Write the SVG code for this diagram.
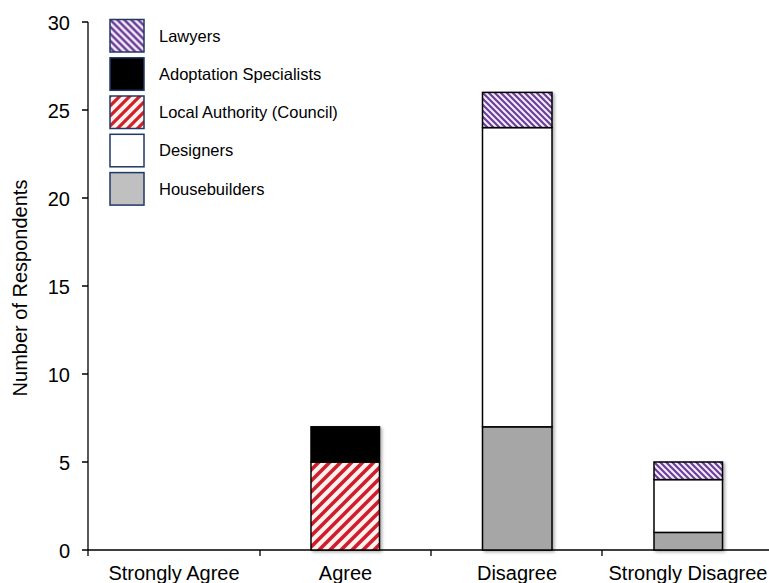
<svg xmlns="http://www.w3.org/2000/svg" width="769" height="583" viewBox="0 0 769 583">
<defs>
<pattern id="red" patternUnits="userSpaceOnUse" width="11" height="11">
<rect width="11" height="11" fill="#fff1ec"/>
<path d="M-2.75,2.75 L2.75,-2.75 M0,11 L11,0 M8.25,13.75 L13.75,8.25" stroke="#cf1f2e" stroke-width="3.6"/>
</pattern>
<pattern id="redL" patternUnits="userSpaceOnUse" width="10" height="10" x="110" y="96">
<rect width="10" height="10" fill="#fff1ec"/>
<path d="M-2.5,2.5 L2.5,-2.5 M0,10 L10,0 M7.5,12.5 L12.5,7.5" stroke="#d0202a" stroke-width="3.2"/>
</pattern>
<pattern id="purple" patternUnits="userSpaceOnUse" width="6" height="6">
<rect width="6" height="6" fill="#f3ecfa"/>
<path d="M-1.5,4.5 L1.5,7.5 M0,0 L6,6 M4.5,-1.5 L7.5,1.5" stroke="#6c3f98" stroke-width="2.2"/>
</pattern>
<pattern id="purpleL" patternUnits="userSpaceOnUse" width="7" height="7" x="110" y="19.5">
<rect width="7" height="7" fill="#f3ecfa"/>
<path d="M-1.75,5.25 L1.75,8.75 M0,0 L7,7 M5.25,-1.75 L8.75,1.75" stroke="#6c3f98" stroke-width="2.5"/>
</pattern>
<filter id="shadow" x="-10%" y="-10%" width="130%" height="130%">
<feDropShadow dx="2" dy="1.5" stdDeviation="1.5" flood-color="#000" flood-opacity="0.3"/>
</filter>
</defs>
<style>
text{font-family:"Liberation Sans",Arial,sans-serif;fill:#000}
.tick{font-size:20px;text-anchor:end}
.cat{font-size:20px;text-anchor:middle}
.leg{font-size:16.5px}
.ax{stroke:#000;stroke-width:1.3;fill:none}
.seg{stroke:#000;stroke-width:1.5}
.lbox{stroke:#1f3864;stroke-width:1.5}
</style>
<rect width="769" height="583" fill="#fff"/>

<g id="axes">
<path class="ax" d="M88,22 V550 M82,550 H769"/>
<path class="ax" d="M82,22 H88 M82,110 H88 M82,198 H88 M82,286 H88 M82,374 H88 M82,462 H88"/>
<path class="ax" d="M88,550 V556 M260,550 V556 M431,550 V556 M602,550 V556"/>
<text class="tick" x="70" y="29.5">30</text>
<text class="tick" x="70" y="117.5">25</text>
<text class="tick" x="70" y="205.5">20</text>
<text class="tick" x="70" y="293.5">15</text>
<text class="tick" x="70" y="381.5">10</text>
<text class="tick" x="70" y="469.5">5</text>
<text class="tick" x="70" y="557.5">0</text>
<text class="cat" x="174" y="580">Strongly Agree</text>
<text class="cat" x="345.5" y="580">Agree</text>
<text class="cat" x="517" y="580">Disagree</text>
<text class="cat" x="688" y="580">Strongly Disagree</text>
<text x="0" y="0" font-size="20" text-anchor="middle" transform="translate(26.5,288) rotate(-90)">Number of Respondents</text>
</g>

<g id="bar-agree" filter="url(#shadow)">
<rect class="seg" x="311" y="462" width="68.5" height="88" fill="url(#red)"/>
<rect class="seg" x="311" y="426.8" width="68.5" height="35.2" fill="#000"/>
</g>

<g id="bar-disagree" filter="url(#shadow)">
<rect class="seg" x="482.5" y="426.8" width="69.5" height="123.2" fill="#a6a6a6"/>
<rect class="seg" x="482.5" y="127.6" width="69.5" height="299.2" fill="#fff"/>
<rect class="seg" x="482.5" y="92.4" width="69.5" height="35.2" fill="url(#purple)"/>
</g>

<g id="bar-strongly-disagree" filter="url(#shadow)">
<rect class="seg" x="654" y="532.4" width="68.5" height="17.6" fill="#a6a6a6"/>
<rect class="seg" x="654" y="479.6" width="68.5" height="52.8" fill="#fff"/>
<rect class="seg" x="654" y="462" width="68.5" height="17.6" fill="url(#purple)"/>
</g>

<g id="legend">
<g id="legend-lawyers">
<rect class="lbox" x="110" y="19.5" width="34" height="32.5" fill="url(#purpleL)"/>
<text class="leg" x="159" y="41.7">Lawyers</text>
</g>
<g id="legend-adoptation">
<rect class="lbox" x="110" y="57.8" width="34" height="32.5" fill="#000"/>
<text class="leg" x="159" y="80">Adoptation Specialists</text>
</g>
<g id="legend-local-authority">
<rect class="lbox" x="110" y="96" width="34" height="32.5" fill="url(#redL)"/>
<text class="leg" x="159" y="118">Local Authority (Council)</text>
</g>
<g id="legend-designers">
<rect class="lbox" x="110" y="134.3" width="34" height="32.5" fill="#fff"/>
<text class="leg" x="159" y="156.3">Designers</text>
</g>
<g id="legend-housebuilders">
<rect class="lbox" x="110" y="172.6" width="34" height="32.5" fill="#c0c0c0"/>
<text class="leg" x="159" y="195">Housebuilders</text>
</g>
</g>
</svg>
